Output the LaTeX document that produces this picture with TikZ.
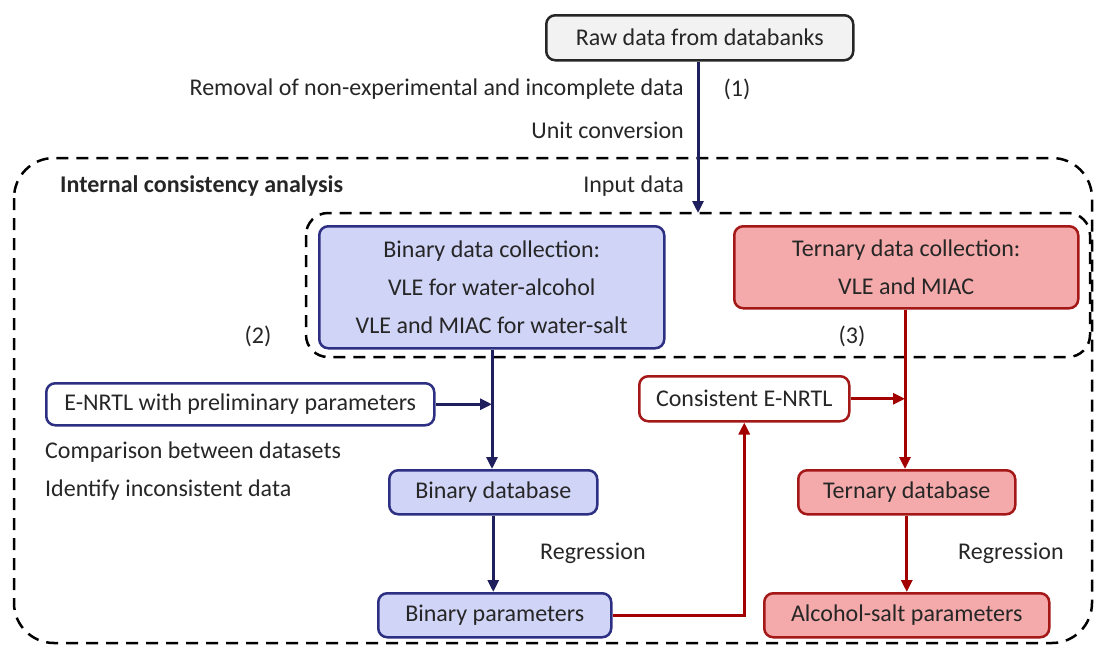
\documentclass[tikz,border=0pt]{standalone}
\usepackage{fontspec}
\setmainfont{Carlito}
\usetikzlibrary{arrows.meta}
\definecolor{navy}{HTML}{1F1F5E}
\definecolor{navyb}{HTML}{2C2F82}
\definecolor{lav}{HTML}{D0D4F7}
\definecolor{dred}{HTML}{A30000}
\definecolor{redb}{HTML}{A51818}
\definecolor{pinkf}{HTML}{F4AAAA}
\definecolor{grayf}{HTML}{F2F2F2}
\tikzset{
  every node/.style={font=\fontsize{24}{29}\selectfont, text=black!85},
  box/.style={draw, rounded corners=9pt, line width=2.5pt, inner sep=0pt, anchor=north west},
  bluebox/.style={box, draw=navyb, fill=lav},
  bluewhite/.style={box, draw=navyb, fill=white},
  redbox/.style={box, draw=redb, fill=pinkf},
  redwhite/.style={box, draw=redb, fill=white},
  grbox/.style={box, draw=black!85, fill=grayf},
  narrow/.style={draw=navy, line width=3pt, -{Triangle[length=12pt,width=11pt]}},
  rarrow/.style={draw=dred, line width=3pt, -{Triangle[length=12pt,width=11pt]}},
  dashbox/.style={draw=black, line width=2.5pt, dash pattern=on 12pt off 8pt},
  lbl/.style={inner sep=0pt},
}
\begin{document}
\begin{tikzpicture}[x=1pt,y=-1pt]
\useasboundingbox (0,0) rectangle (1099,648);
% dashed frames
\draw[dashbox, rounded corners=40pt] (14,158) rectangle (1092,643);
\draw[dashbox, rounded corners=22pt] (306,213) rectangle (1090,357);
% boxes
\node[grbox, minimum width=307pt, minimum height=45pt] (raw) at (545,14) {Raw data from databanks};
\node[bluebox, minimum width=345pt, minimum height=122pt, align=center] (bcol) at (318,225)
  {Binary data collection:\\[9pt]VLE for water-alcohol\\[9pt]VLE and MIAC for water-salt};
\node[redbox, minimum width=344pt, minimum height=82pt, align=center] (tcol) at (733,225)
  {Ternary data collection:\\[9pt]VLE and MIAC};
\node[bluewhite, minimum width=388pt, minimum height=42pt] (enrtl) at (45,382) {E-NRTL with preliminary parameters};
\node[redwhite, minimum width=210pt, minimum height=45pt] (cenrtl) at (638,375) {Consistent E-NRTL};
\node[bluebox, minimum width=208pt, minimum height=44pt] (bdb) at (388,469) {Binary database};
\node[bluebox, minimum width=233pt, minimum height=44pt] (bpar) at (377,592) {Binary parameters};
\node[redbox, minimum width=217pt, minimum height=44pt] (tdb) at (797,469) {Ternary database};
\node[redbox, minimum width=285pt, minimum height=44pt] (apar) at (763,592) {Alcohol-salt parameters};
% texts
\node[lbl, anchor=east] (t1) at (684,89) {Removal of non-experimental and incomplete data};
\node[lbl] (n1) at (737,89) {(1)};
\node[lbl, anchor=east] (t2) at (684,130) {Unit conversion};
\node[lbl, anchor=east] (t3) at (684,186) {Input data};
\node[lbl, anchor=west, font=\fontsize{24}{29}\selectfont\bfseries] (ica) at (60,186) {Internal consistency analysis};
\node[lbl] (n2) at (258,336) {(2)};
\node[lbl] (n3) at (852,336) {(3)};
\node[lbl, anchor=west] (c1) at (45,452) {Comparison between datasets};
\node[lbl, anchor=west] (c2) at (45,490) {Identify inconsistent data};
\node[lbl, anchor=west] (r1) at (540,553) {Regression};
\node[lbl, anchor=west] (r2) at (958,553) {Regression};
% coordinates
\coordinate (inTop) at (698,213);
\coordinate (bj) at (492,402);
\coordinate (rj) at (905,397);
% arrows
\draw[narrow] (raw.south -| inTop) -- (inTop);
\draw[narrow] (bcol.south -| bj) -- (bdb.north -| bj);
\draw[narrow] (enrtl.east) -- (enrtl.east -| bj);
\draw[narrow] (bdb.south) -- (bpar.north -| bdb.south);
\draw[rarrow] (tcol.south -| rj) -- (tdb.north -| rj);
\draw[rarrow] (cenrtl.east) -- (cenrtl.east -| rj);
\draw[rarrow] (tdb.south) -- (apar.north -| tdb.south);
\draw[rarrow] (bpar.east) -| (cenrtl.south);
\end{tikzpicture}
\end{document}
